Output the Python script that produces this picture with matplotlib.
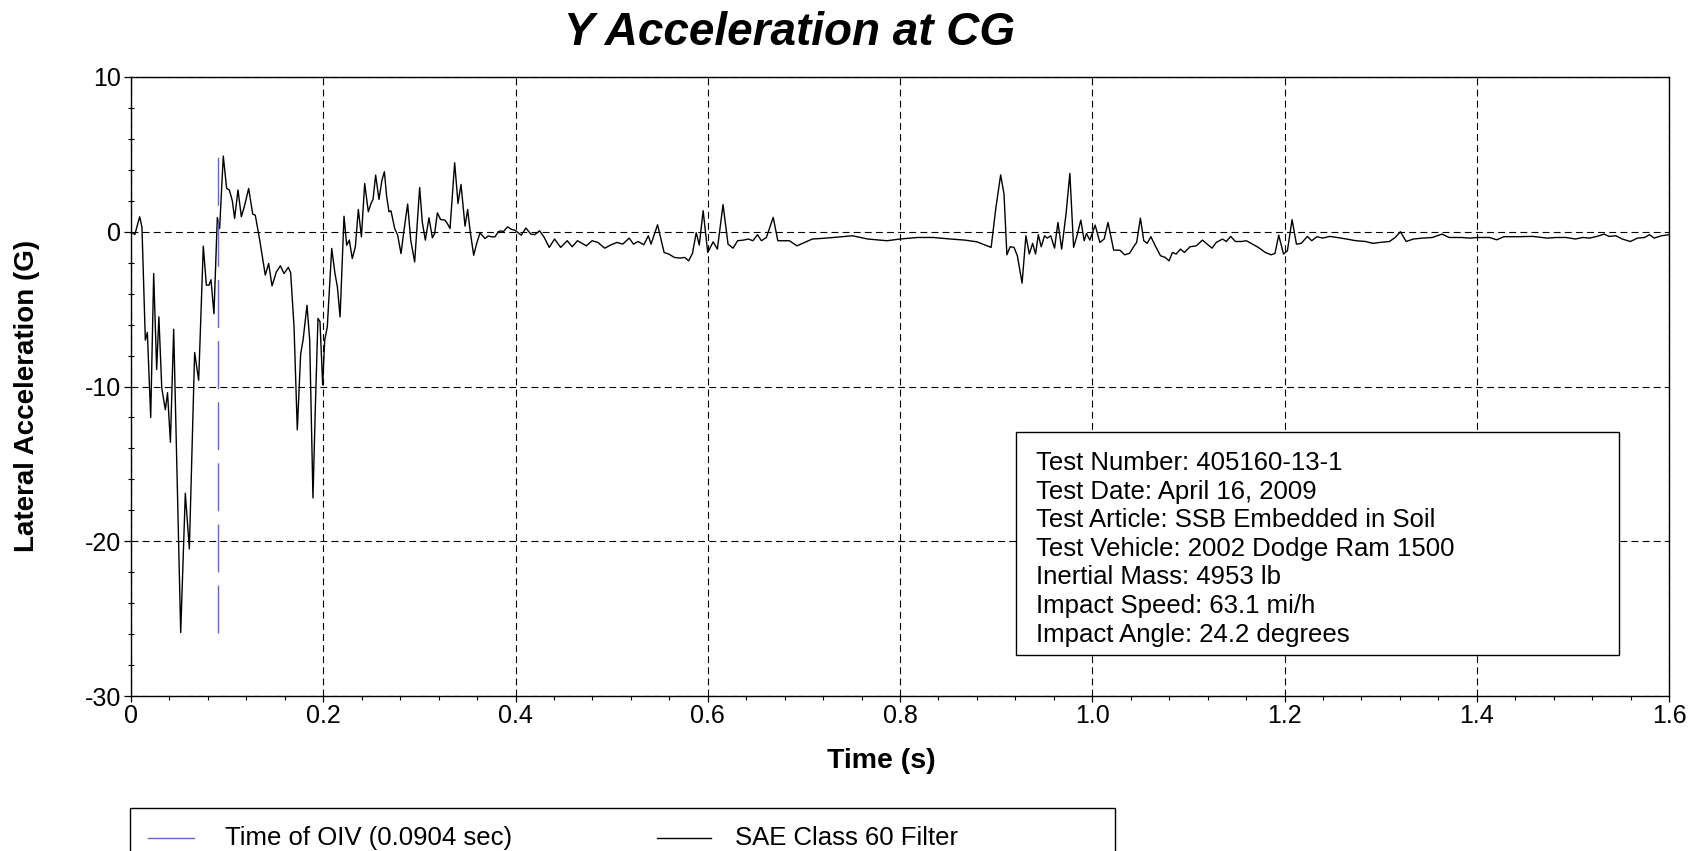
import matplotlib
matplotlib.use("Agg")
import matplotlib.pyplot as plt
from matplotlib.patches import Rectangle
from matplotlib.lines import Line2D
from matplotlib.ticker import MultipleLocator, FixedLocator, FuncFormatter

# --- data (time in s, lateral acceleration in G) ---
time_s = [
    0.0, 0.004, 0.009, 0.0114, 0.0149, 0.017, 0.0205, 0.0236, 0.0267, 0.029,
    0.032, 0.0357, 0.038, 0.041, 0.0444, 0.0517, 0.0565, 0.0607, 0.0662, 0.0704,
    0.0752, 0.0784, 0.0811, 0.0832, 0.0863, 0.0898, 0.0922, 0.096, 0.0995, 0.1023,
    0.1054, 0.1078, 0.1113, 0.1148, 0.1182, 0.1224, 0.1266, 0.1293, 0.1339, 0.1397,
    0.1432, 0.1467, 0.1512, 0.1554, 0.1592, 0.1637, 0.1661, 0.1696, 0.173, 0.1765,
    0.179, 0.1831, 0.1859, 0.1893, 0.1918, 0.1945, 0.1966, 0.1994,
    0.2015, 0.2042, 0.2088, 0.2122, 0.2147, 0.2175, 0.2216, 0.2244, 0.2271, 0.2302,
    0.2334, 0.2365, 0.2397, 0.2431, 0.2469, 0.2497, 0.2518, 0.2545, 0.258, 0.2611,
    0.2636, 0.266, 0.2684, 0.2705, 0.2743, 0.2774, 0.2809, 0.284, 0.2878, 0.291,
    0.2951, 0.3003, 0.303, 0.3062, 0.31, 0.3135, 0.3159, 0.3187, 0.3221, 0.3266,
    0.3291, 0.3319, 0.3367, 0.3402, 0.3433, 0.3475, 0.3502, 0.3527, 0.3565, 0.3596,
    0.3631, 0.3683, 0.3717, 0.3752, 0.3786, 0.3821, 0.3849, 0.3873, 0.3918, 0.3959,
    0.3994,
    0.406, 0.4108, 0.4159, 0.4199, 0.4251, 0.4299, 0.4351, 0.4406, 0.447, 0.4538,
    0.459, 0.4645, 0.4737, 0.4797, 0.4857, 0.4928, 0.4996, 0.5056, 0.5116, 0.5183,
    0.5227, 0.5275, 0.5335, 0.5382, 0.541, 0.5478, 0.5546, 0.5594, 0.5653, 0.5713,
    0.5761, 0.5801, 0.5841, 0.588, 0.5912, 0.5952, 0.6, 0.6056, 0.61, 0.6159,
    0.6211, 0.6263, 0.6311, 0.6371, 0.6422, 0.647, 0.6518, 0.6558, 0.661, 0.6681,
    0.6729, 0.6789, 0.6849, 0.6928, 0.7008, 0.7088, 0.7187, 0.7307, 0.7506, 0.7665,
    0.7865, 0.8, 0.8183, 0.8343,
    0.8526, 0.8675, 0.8799, 0.8948, 0.8998, 0.9047, 0.9082, 0.9112, 0.9146, 0.9186,
    0.9221, 0.927, 0.931, 0.9345, 0.938, 0.941, 0.9439, 0.9469, 0.9504, 0.9533,
    0.9568, 0.9608, 0.9643, 0.9682, 0.9727, 0.9767, 0.9806, 0.9841, 0.9881, 0.9916,
    0.994, 0.9975, 1.003, 1.0079, 1.0124, 1.0164, 1.0223, 1.0288, 1.0337, 1.0387,
    1.0437, 1.0462, 1.0501, 1.0536, 1.0571, 1.061, 1.065, 1.071, 1.0759, 1.0799,
    1.0834, 1.0873, 1.0918, 1.0958, 1.1017, 1.1082, 1.1146, 1.1196, 1.1246, 1.129,
    1.1355, 1.1395, 1.144, 1.1489, 1.1553, 1.1603, 1.1653, 1.1727, 1.1801, 1.1861,
    1.1901, 1.194, 1.199, 1.203, 1.2079, 1.2124, 1.2174, 1.2238, 1.2283, 1.2337,
    1.2397, 1.2471, 1.2546, 1.2645, 1.2744, 1.2844, 1.2918, 1.2993, 1.3092, 1.3151,
    1.3206, 1.3266, 1.334, 1.3439, 1.3538, 1.3638, 1.3712, 1.3836, 1.3935, 1.401,
    1.4134, 1.4208, 1.4283, 1.4432, 1.4581, 1.473, 1.4829, 1.4928, 1.5027, 1.5102,
    1.5176, 1.5251, 1.5325, 1.5375, 1.5449, 1.5514, 1.5598, 1.5672, 1.5747, 1.5797,
    1.5846, 1.5921, 1.6,
]
accel_g = [
    0.0, -0.18, 0.97, 0.3, -7.0, -6.5, -12.0, -2.7, -8.9, -5.5,
    -10.1, -11.5, -10.4, -13.6, -6.3, -25.9, -16.9, -20.5, -7.8, -9.6,
    -0.93, -3.45, -3.45, -3.1, -5.3, 0.92, 0.21, 4.89, 2.8, 2.7,
    2.0, 0.86, 2.7, 0.97, 1.7, 2.8, 1.14, 1.07, -0.54, -2.8,
    -2.05, -3.5, -2.6, -2.2, -2.7, -2.3, -2.66, -6.15, -12.8, -7.9,
    -7.0, -4.75, -7.0, -17.2, -11.3, -5.6, -5.8, -9.9,
    -7.0, -6.15, -1.08, -2.7, -3.56, -5.5, 1.0, -0.87, -0.54, -1.73,
    -0.97, 1.44, -0.33, 3.12, 1.29, 1.83, 2.09, 3.66, 2.09, 3.34,
    3.88, 2.26, 1.29, 1.35, 0.21, -0.22, -1.41, 0.1, 1.79, -0.54,
    -1.95, 2.86, 0.64, -0.54, 0.9, -0.39, -0.11, 1.22, 0.79, 0.75,
    0.53, 0.21, 4.46, 1.83, 3.06, 0.36, 1.44, 0.1, -1.52, -0.76,
    -0.07, -0.44, -0.27, -0.33, -0.33, 0.0, 0.06, 0.0, 0.32, 0.15,
    0.1,
    -0.22, 0.24, -0.15, -0.19, 0.06, -0.37, -1.01, -0.47, -1.01, -0.58,
    -0.97, -0.58, -0.91, -0.58, -0.69, -1.06, -0.84, -0.69, -0.8, -0.41,
    -0.8, -0.63, -0.84, -0.26, -0.8, 0.45, -1.34, -1.44, -1.66, -1.7,
    -1.66, -1.88, -1.4, -0.06, -0.86, 1.36, -1.34, -0.65, -1.12, 1.75,
    -0.8, -1.06, -0.58, -0.54, -0.47, -0.58, -0.19, -0.58, -0.37, 0.93,
    -0.58, -0.58, -0.58, -0.91, -0.69, -0.47, -0.43, -0.37, -0.26, -0.47,
    -0.58, -0.47, -0.37, -0.37,
    -0.47, -0.54, -0.65, -1.01, 1.57, 3.67, 2.44, -1.49, -0.97, -1.01,
    -1.55, -3.32, -0.26, -1.44, -0.75, -1.44, -0.19, -0.97, -0.26, -0.41,
    -0.26, -1.06, 0.6, -1.12, 1.14, 3.77, -1.01, -0.26, 0.75, -0.58,
    -0.11, -0.54, 0.43, -0.69, -0.47, 0.6, -1.19, -1.19, -1.49, -1.4,
    -0.91, -0.69, 0.88, -0.58, -0.75, -0.32, -0.84, -1.55, -1.66, -1.88,
    -1.34, -1.44, -1.12, -1.34, -0.97, -0.91, -0.54, -0.8, -1.06, -0.69,
    -0.47, -0.63, -0.3, -0.63, -0.63, -0.58, -0.75, -1.01, -1.34, -1.49,
    -1.4, -0.22, -1.44, -1.23, 0.78, -0.8, -0.75, -0.3, -0.58, -0.32,
    -0.41, -0.3, -0.37, -0.47, -0.58, -0.63, -0.75, -0.69, -0.63, -0.37,
    0.0, -0.63, -0.47, -0.41, -0.37, -0.15, -0.37, -0.37, -0.41, -0.37,
    -0.37, -0.52, -0.32, -0.32, -0.3, -0.41, -0.37, -0.37, -0.47, -0.37,
    -0.41, -0.3, -0.15, -0.3, -0.26, -0.47, -0.63, -0.41, -0.37, -0.19,
    -0.41, -0.26, -0.19,
]
oiv_time = 0.0904

x_ticks = [0, 0.2, 0.4, 0.6, 0.8, 1.0, 1.2, 1.4, 1.6]
y_ticks = [-30, -20, -10, 0, 10]

info_lines = [
    "Test Number: 405160-13-1",
    "Test Date: April 16, 2009",
    "Test Article: SSB Embedded in Soil",
    "Test Vehicle: 2002 Dodge Ram 1500",
    "Inertial Mass: 4953 lb",
    "Impact Speed: 63.1 mi/h",
    "Impact Angle: 24.2 degrees",
]

plt.rcParams['font.family'] = ['Liberation Sans', 'DejaVu Sans']

W, H = 1698, 851


def fx(px):
    return px / W


def fy(py):
    return 1 - py / H


fig = plt.figure(figsize=(W / 100, H / 100), dpi=100)
ax = fig.add_axes([fx(131), fy(696), (1669 - 131) / W, (696 - 77) / H])

# Plot data
ax.plot(time_s, accel_g, color='black', lw=1.0, zorder=3)
ax.vlines(oiv_time, min(accel_g), max(accel_g), color='#6868c4', lw=1.0,
          linestyles=[(0, (34.5, 9.5))], zorder=4)

ax.set_xlim(0, 1.6)
ax.set_ylim(-30, 10)
ax.xaxis.set_major_locator(FixedLocator(x_ticks))
ax.yaxis.set_major_locator(FixedLocator(y_ticks))
ax.xaxis.set_minor_locator(MultipleLocator(0.04))
ax.yaxis.set_minor_locator(MultipleLocator(2))
ax.xaxis.set_major_formatter(FuncFormatter(lambda v, p: "0" if v == 0 else f"{v:.1f}"))
ax.yaxis.set_major_formatter(FuncFormatter(lambda v, p: f"{v:.0f}"))

ax.tick_params(axis='x', which='major', direction='out', length=4.5, width=0.9,
               labelsize=18, pad=1)
ax.tick_params(axis='x', which='minor', direction='out', length=3, width=0.8)
ax.tick_params(axis='y', which='major', direction='out', length=5, width=0.9,
               labelsize=18, pad=2)
ax.tick_params(axis='y', which='minor', direction='inout', length=4, width=0.8)
for s in ax.spines.values():
    s.set_linewidth(1.0)

ax.grid(True, which='major', color='black', lw=0.8, linestyle=(0, (6.2, 3.8)))
ax.set_axisbelow(True)

# Titles
fig.text(fx(789), fy(33), "Y Acceleration at CG", ha='center', va='center',
         fontsize=33, fontweight='bold', fontstyle='italic')
fig.text(fx(881), fy(761), "Time (s)", ha='center', va='center',
         fontsize=20.5, fontweight='bold')
fig.text(fx(27), fy(396), "Lateral Acceleration (G)", ha='center', va='center',
         rotation=90, fontsize=20, fontweight='bold')

# Info box
fig.add_artist(Rectangle((fx(1016), fy(655)), (1619 - 1016) / W, (655 - 432) / H,
                         transform=fig.transFigure, facecolor='white',
                         edgecolor='black', lw=1.0, zorder=5))
for i, line in enumerate(info_lines):
    fig.text(fx(1036), fy(470 + i * 28.6), line, ha='left', va='baseline',
             fontsize=18.5, zorder=6)

# Legend (box runs off the bottom of the figure)
fig.add_artist(Rectangle((fx(130), fy(880)), (1115 - 130) / W, (880 - 808) / H,
                         transform=fig.transFigure, facecolor='white',
                         edgecolor='black', lw=1.0, zorder=5))
fig.add_artist(Line2D([fx(148), fx(194)], [fy(838), fy(838)], color='#6868c4',
                      lw=1.0, transform=fig.transFigure, zorder=6))
fig.text(fx(225), fy(838), "Time of OIV (0.0904 sec)", ha='left', va='center',
         fontsize=18.5, zorder=6)
fig.add_artist(Line2D([fx(657), fx(711)], [fy(838), fy(838)], color='black',
                      lw=1.0, transform=fig.transFigure, zorder=6))
fig.text(fx(735), fy(838), "SAE Class 60 Filter", ha='left', va='center',
         fontsize=18.5, zorder=6)

fig.savefig("out.png", dpi=100)
